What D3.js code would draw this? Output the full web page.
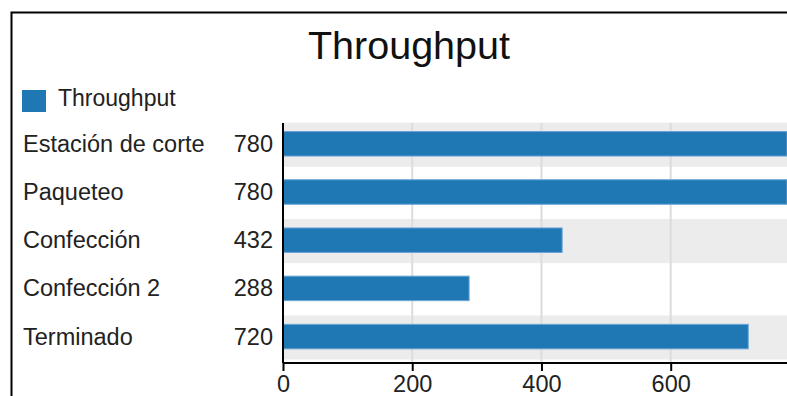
<!DOCTYPE html>
<html>
<head>
<meta charset="utf-8">
<script src="https://cdn.jsdelivr.net/npm/d3@7"></script>
<style>
  html, body { margin: 0; padding: 0; background: #fff; overflow: hidden; }
  svg { display: block; font-family: "Liberation Sans", Arial, sans-serif; }
</style>
</head>
<body>
<svg id="chart" width="787" height="396"></svg>
<script>
// Throughput per station
const categories = ["Estación de corte", "Paqueteo", "Confección", "Confección 2", "Terminado"];
const values = [780, 780, 432, 288, 720];
const xTicks = [0, 200, 400, 600];
const title = "Throughput";
const seriesName = "Throughput";

const W = 787, H = 396;
const svg = d3.select("#chart");
const blue = "#1f77b4";

// frame
svg.append("path")
  .attr("d", `M11.5,${H} L11.5,12.5 L${W},12.5`)
  .attr("fill", "none").attr("stroke", "#000").attr("stroke-width", 2);

// title
svg.append("text")
  .attr("x", 409).attr("y", 59)
  .attr("text-anchor", "middle")
  .attr("font-size", 39.5).attr("fill", "#111")
  .text(title);

// legend
svg.append("rect").attr("x", 22).attr("y", 90).attr("width", 24).attr("height", 22).attr("fill", blue);
svg.append("text").attr("x", 58).attr("y", 106).attr("font-size", 23).attr("fill", "#222").text(seriesName);

const plotTop = 123, axisY = 363, x0 = 283;
const x = d3.scaleLinear().domain([0, 780]).range([x0, W]);
const y = d3.scaleBand().domain(categories).range([119.7, 360.7]).padding(0);
const step = y.step();
const barH = 24.5;

// alternating background bands
svg.append("g").selectAll("rect")
  .data(categories.filter((c, i) => i % 2 === 0))
  .join("rect")
  .attr("x", x0).attr("width", W - x0)
  .attr("y", d => y(d) + 3)
  .attr("height", d => Math.min(y(d) + 47, axisY) - (y(d) + 3))
  .attr("fill", "#ececec");

// vertical grid lines
svg.append("g").selectAll("line")
  .data(xTicks.filter(t => t > 0))
  .join("line")
  .attr("x1", d => x(d)).attr("x2", d => x(d))
  .attr("y1", plotTop).attr("y2", axisY)
  .attr("stroke", "#dcdcdc").attr("stroke-width", 2);

// bars
svg.append("g").selectAll("rect")
  .data(categories)
  .join("rect")
  .attr("x", x(0))
  .attr("y", d => y(d) + (step - barH) / 2)
  .attr("width", (d, i) => x(values[i]) - x(0))
  .attr("height", barH)
  .attr("fill", blue)
  .attr("stroke", "#6aa5d6").attr("stroke-width", 1);

// category labels and values
const labels = svg.append("g").attr("font-size", 23.5).attr("fill", "#222");
labels.selectAll("text.cat")
  .data(categories)
  .join("text").attr("class", "cat")
  .attr("x", 23)
  .attr("y", d => y(d) + step / 2 + 8)
  .text(d => d);
labels.selectAll("text.val")
  .data(categories)
  .join("text").attr("class", "val")
  .attr("x", 273).attr("text-anchor", "end")
  .attr("y", d => y(d) + step / 2 + 8)
  .text((d, i) => values[i]);

// axes
const xAxis = d3.axisBottom(x).tickValues(xTicks).tickSize(8).tickPadding(4);
const gx = svg.append("g").attr("transform", `translate(0,${axisY})`).call(xAxis);
gx.select(".domain").attr("stroke", "#000").attr("stroke-width", 2).attr("d", `M${x0},0H${W}`);
gx.selectAll(".tick line").attr("stroke", "#000").attr("stroke-width", 2);
gx.selectAll(".tick text").attr("font-size", 23.5).attr("fill", "#222")
  .attr("font-family", '"Liberation Sans", Arial, sans-serif');

svg.append("line")
  .attr("x1", x0).attr("x2", x0).attr("y1", plotTop).attr("y2", axisY)
  .attr("stroke", "#000").attr("stroke-width", 2);
</script>
</body>
</html>
